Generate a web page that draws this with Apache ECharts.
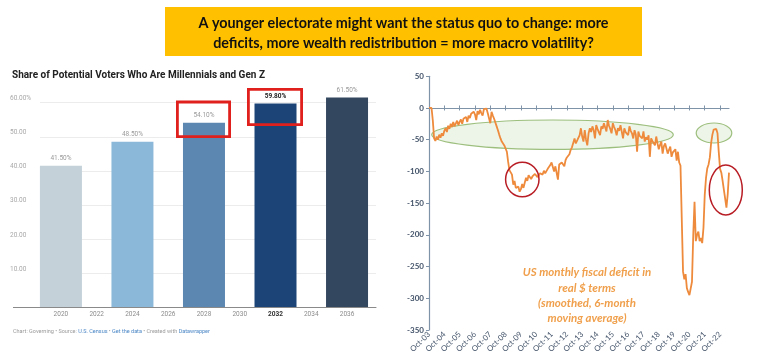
<!DOCTYPE html>
<html>
<head>
<meta charset="utf-8">
<script src="https://cdn.jsdelivr.net/npm/echarts@6/dist/echarts.min.js"></script>
<style>
html,body{margin:0;padding:0;background:#fff;}
#c{width:766px;height:364px;}
</style>
</head>
<body>
<div id="c"></div>
<script>
// ---- Left chart data ----
const voterYears = [2020, 2024, 2028, 2032, 2036];
const voterShares = [41.5, 48.5, 54.1, 59.8, 61.5];
const voterTickYears = [2020, 2022, 2024, 2026, 2028, 2030, 2032, 2034, 2036];
const barColors = ['#c4d1d8', '#8bb8d9', '#5c87b1', '#1c4476', '#33475f'];

// ---- Right chart data (monthly, Oct-03 onward, $bn real, 6m avg) ----
const deficit = [
  0,0,0,-20,-48,-52,-45,-50,-42,-47,-40,-44,-36,
  -32,-38,-28,-33,-25,-30,-22,-29,-26,-20,-27,-22,-18,-25,-17,-20,-14,-22,-12,-16,-9,-12,-6,-10,
  -19,-5,-10,-3,-8,-12,-2,-3,-1,-8,-6,-24,-6,-12,-17,-14,-29,-35,-42,-48,-53,-50,-59,-62,-69,-85,-98,-96,-105,-121,-115,-126,-129,-124,-132,
  -128,-120,-126,-118,-110,-115,-106,-105,-112,-108,
  -110,-104,-102,-109,-108,-103,-106,-105,-99,-103,
  -100,-96,-94,-90,-86,-84,-100,-92,-89,-113,
  -89,-90,-86,-84,-92,-82,-78,-80,-73,-66,
  -62,-65,-48,-56,-53,-47,-43,-32,-45,-53,
  -35,-50,-59,-40,-32,-38,-29,-35,-48,-27,
  -33,-38,-43,-29,-33,-24,-21,-37,-19,-28,
  -33,-40,-24,-30,-35,-43,-32,
  -36,-27,-30,-48,-32,-38,-35,-43,-29,-36,
  -40,-48,-35,-42,-69,-37,-44,-41,-48,-37,
  -53,-46,-50,-43,-77,-48,-52,-55,-59,-45,
  -56,-65,-58,-53,-72,-60,-56,-64,-72,-66,
  -61,-77,-70,-68,-65,-83,-69,-86,-91,-92,
  -258,-270,-262,-284,-290,-295,-292,-274,-200,-148,
  -210,-200,-195,-210,-205,-213,-189,-137,-110,-95,
  -89,-78,-55,-42,-34,-31,-33,-40,-70,-96,
  -102,-115,-129,-131,-157,-136,-102
];
const monthNames = ['Jan','Feb','Mar','Apr','May','Jun','Jul','Aug','Sep','Oct','Nov','Dec'];
const startMonth = 9, startYear = 3; // Oct-03
const months = deficit.map((_, i) => {
  const m = (startMonth + i) % 12;
  const y = startYear + Math.floor((startMonth + i) / 12);
  return monthNames[m] + '-' + String(y).padStart(2, '0');
});

// text strings
const bannerLines = [
  'A younger electorate might want the status quo to change: more',
  'deficits, more wealth redistribution = more macro volatility?'
];
const leftTitle = 'Share of Potential Voters Who Are Millennials and Gen Z';
const noteLines = ['US monthly fiscal deficit in', 'real $ terms', '(smoothed, 6-month', 'moving average)'];

// helper: horizontal squeeze so a text fits its width in the reference
const mctx = document.createElement('canvas').getContext('2d');
function fitScale(text, font, target) {
  mctx.font = font;
  const w = mctx.measureText(text).width;
  return Math.min(1, target / w);
}

const chart = echarts.init(document.getElementById('c'), null, {renderer: 'canvas'});
const axisBlue = '#44546a';

const bannerFont = "bold 16px Lato, sans-serif";
const titleFont = "bold 11px Roboto, sans-serif";
const noteFont = "italic bold 11.5px Lato, sans-serif";
const bannerScale = fitScale(bannerLines[0], bannerFont, 410);
const titleScale = fitScale(leftTitle, titleFont, 253);
const noteScale = fitScale(noteLines[0], noteFont, 130);

const option = {
  animation: false,
  backgroundColor: '#ffffff',
  grid: [
    {left: 40, right: 390, top: 102.7, bottom: 57, containLabel: false},
    {left: 429, right: 37, top: 76.25, bottom: 34, containLabel: false}
  ],
  xAxis: [
    {
      gridIndex: 0, type: 'value', min: 2018.83, max: 2037.62,
      splitLine: {show: false},
      axisLine: {show: true, onZero: false, lineStyle: {color: '#8a8a8a', width: 1}},
      axisTick: {show: false},
      axisLabel: {
        customValues: voterTickYears,
        margin: 4,
        fontSize: 6.5, color: '#8c8c8c', fontFamily: 'Roboto, sans-serif',
        formatter: v => v === 2032 ? '{b|' + v + '}' : String(v),
        rich: {b: {fontWeight: 'bold', color: '#333', fontSize: 6.5, fontFamily: 'Roboto, sans-serif'}}
      }
    },
    {
      gridIndex: 1, type: 'category', data: months, boundaryGap: false,
      axisLine: {show: false, onZero: false},
      axisTick: {show: false},
      splitLine: {show: false},
      axisLabel: {
        interval: 11, rotate: 45, margin: 3,
        fontSize: 7.8, color: axisBlue, fontFamily: 'Lato, sans-serif'
      }
    },
    {
      gridIndex: 1, type: 'category', data: months, boundaryGap: false, position: 'bottom',
      axisLine: {show: true, onZero: true, onZeroAxisIndex: 1, lineStyle: {color: '#7f93a8', width: 1.2}},
      axisTick: {show: true, interval: 11, length: 2.5, lineStyle: {color: '#7f93a8', width: 1}},
      axisLabel: {show: false},
      splitLine: {show: false}
    },
    {
      gridIndex: 1, type: 'category', data: months, boundaryGap: false, position: 'top',
      axisLine: {show: false, onZero: true, onZeroAxisIndex: 1},
      axisTick: {show: true, interval: 11, length: 2.5, lineStyle: {color: '#7f93a8', width: 1}},
      axisLabel: {show: false},
      splitLine: {show: false}
    }
  ],
  yAxis: [
    {
      gridIndex: 0, type: 'value', min: 0, max: 60, interval: 10,
      axisLine: {show: false}, axisTick: {show: false},
      splitLine: {show: true, lineStyle: {color: '#ececec', width: 1}},
      axisLabel: {
        align: 'left', margin: 30, verticalAlign: 'bottom', lineHeight: 8,
        fontSize: 6.5, color: '#a8a8a8', fontFamily: 'Roboto, sans-serif',
        formatter: v => v === 0 ? '' : (v === 60 ? v.toFixed(2) + '%' : v.toFixed(2))
      }
    },
    {
      gridIndex: 1, type: 'value', min: -350, max: 50, interval: 50,
      axisLine: {show: true, lineStyle: {color: '#7f93a8', width: 1.2}},
      axisTick: {show: true, length: 3, lineStyle: {color: '#7f93a8'}},
      splitLine: {show: false},
      axisLabel: {margin: 5, fontSize: 8, fontWeight: 'bold', color: axisBlue, fontFamily: 'Lato, sans-serif'}
    }
  ],
  series: [
    {
      type: 'bar', xAxisIndex: 0, yAxisIndex: 0, barWidth: 42, clip: false,
      data: voterYears.map((y, i) => ({
        value: [y, voterShares[i]],
        itemStyle: {color: barColors[i]},
        label: y === 2032 ? {fontWeight: 'bold', color: '#222'} : {}
      })),
      label: {
        show: true, position: 'top', distance: 4,
        fontSize: 6.5, color: '#9a9a9a', fontFamily: 'Roboto, sans-serif',
        formatter: p => p.value[1].toFixed(2) + '%'
      }
    },
    {
      type: 'line', xAxisIndex: 1, yAxisIndex: 1, data: deficit,
      showSymbol: false, symbol: 'none',
      lineStyle: {color: '#ee8a3c', width: 1.8},
      z: 5
    }
  ],
  graphic: [
    // banner
    {type: 'rect', shape: {x: 165, y: 7, width: 477, height: 49}, style: {fill: '#ffc000'}, z: 1},
    {type: 'text', x: 403.5, y: 23, scaleX: bannerScale, z: 2, style: {text: bannerLines[0], fill: '#111', font: bannerFont, textAlign: 'center', textVerticalAlign: 'middle'}},
    {type: 'text', x: 403.5, y: 43, scaleX: bannerScale, z: 2, style: {text: bannerLines[1], fill: '#111', font: bannerFont, textAlign: 'center', textVerticalAlign: 'middle'}},
    // left title
    {type: 'text', x: 12, y: 75, scaleX: titleScale, z: 2, style: {text: leftTitle, fill: '#222', font: titleFont, textAlign: 'left', textVerticalAlign: 'middle'}},
    // baseline extension under y labels
    {type: 'line', shape: {x1: 13, y1: 307.5, x2: 40, y2: 307.5}, style: {stroke: '#8a8a8a', lineWidth: 1}, z: 2},
    // footer
    {type: 'text', x: 13, y: 332, z: 2, style: {
      text: '{g|Chart: Governing • Source: }{b|U.S. Census}{g| • }{b|Get the data}{g| • Created with }{b|Datawrapper}',
      textVerticalAlign: 'middle', font: "5.5px Roboto, sans-serif",
      rich: {g: {fill: '#9a9a9a', fontSize: 5.5, fontFamily: 'Roboto'}, b: {fill: '#4a86c5', fontSize: 5.5, fontFamily: 'Roboto'}}
    }},
    // red highlight boxes
    {type: 'rect', shape: {x: 177.4, y: 102, width: 52.2, height: 34.6}, style: {fill: 'none', stroke: '#e0201c', lineWidth: 2.8}, z: 10},
    {type: 'rect', shape: {x: 248.4, y: 89.4, width: 53.2, height: 35.2}, style: {fill: 'none', stroke: '#e0201c', lineWidth: 2.8}, z: 10},
    // green ellipses
    {type: 'ellipse', shape: {cx: 552.5, cy: 134.7, rx: 120.8, ry: 14.7}, style: {fill: 'rgba(214,232,204,0.45)', stroke: '#9dbf7e', lineWidth: 1.2}, z: 0},
    {type: 'ellipse', shape: {cx: 714, cy: 133, rx: 17.8, ry: 10}, style: {fill: 'rgba(214,232,204,0.45)', stroke: '#9dbf7e', lineWidth: 1.2}, z: 0},
    // red circles
    {type: 'ellipse', shape: {cx: 522.3, cy: 179.5, rx: 16.7, ry: 17.2}, style: {fill: 'none', stroke: '#b81c24', lineWidth: 1.5}, z: 10},
    {type: 'ellipse', shape: {cx: 725.8, cy: 190, rx: 16.5, ry: 25}, style: {fill: 'none', stroke: '#b81c24', lineWidth: 1.5}, z: 10},
    // annotation
    {type: 'text', x: 587, y: 295.5, scaleX: noteScale, z: 10, style: {
      text: noteLines.join('\n'),
      fill: '#f0a04c', font: noteFont, textAlign: 'center', textVerticalAlign: 'middle', lineHeight: 15.3
    }}
  ]
};
chart.setOption(option);
</script>
</body>
</html>
